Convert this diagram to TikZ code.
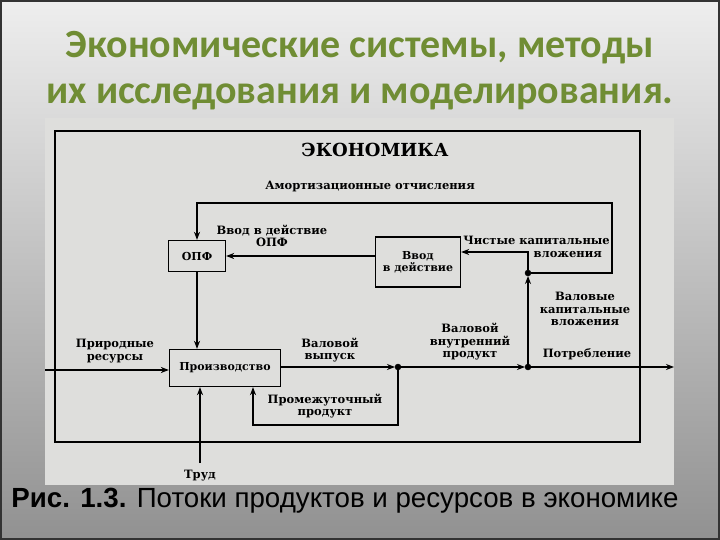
\documentclass[tikz,border=0pt]{standalone}
\usepackage{fontspec}
\setmainfont{DejaVu Serif}
\newfontfamily\titlefont{Carlito}
\newfontfamily\capfont{Liberation Sans}
\usetikzlibrary{arrows.meta}
\definecolor{titlegreen}{RGB}{112,141,52}
\definecolor{scanbg}{RGB}{222,222,220}
\definecolor{bgtop}{RGB}{238,238,238}
\definecolor{bgbot}{RGB}{145,145,145}
\tikzset{
  box/.style={draw, line width=1.3pt, fill=scanbg, inner sep=0pt, font=\bfseries\fontsize{11}{12}\selectfont},
  lbl/.style={font=\bfseries\fontsize{11.5}{12.5}\selectfont, align=center, inner sep=0pt},
  ln/.style={line width=1.3pt},
  arr/.style={line width=1.3pt, -{Stealth[length=8pt,width=6pt]}},
  dot/.style={circle, fill=black, draw=black, inner sep=0pt, minimum size=6pt}
}
\begin{document}
\begin{tikzpicture}[x=1pt,y=-1pt]
\useasboundingbox (0,0) rectangle (720,540);
\shade[top color=bgtop, bottom color=bgbot] (0,0) rectangle (720,540);
\draw[line width=2pt, black!80] (1,1) rectangle (719,539);
% title
\node[font=\titlefont\bfseries\fontsize{40}{46}\selectfont, text=titlegreen, align=center] (title) at (360,71)
  {Экономические системы, методы\\их исследования и моделирования.};
% scan
\fill[scanbg] (45,118) rectangle (674,485);
% frame
\draw[ln] (55,131) rectangle (640,442);
\node[font=\bfseries\fontsize{18}{20}\selectfont] (ekon) at (375,150) {ЭКОНОМИКА};
\node[lbl] (amort) at (370,187) {Амортизационные отчисления};
% boxes
\node[box, minimum width=57pt, minimum height=31pt] (opf) at (197,256) {ОПФ};
\node[box, minimum width=85pt, minimum height=50pt, align=center] (vvod) at (418,262) {Ввод\\в действие};
\node[box, minimum width=111pt, minimum height=37pt] (proizv) at (225,368) {Производство};
% coordinates / dots
\node[dot] (d1) at (398,367) {};
\node[dot] (d2) at (528,367) {};
\node[dot] (j1) at (528,273) {};
\coordinate (nat) at (45,370);
\coordinate (out) at (674,367);
\coordinate (trud) at (200,463);
% labels
\node[lbl, align=right, anchor=east] (lchist) at (610,247) {Чистые капитальные\\вложения\hspace*{8pt}};
\node[lbl] (lvvod) at (272,236) {Ввод в действие\\ОПФ};
\node[lbl] (lval) at (585,309) {Валовые\\капитальные\\вложения};
\node[lbl] (lnat) at (115,351) {Природные\\ресурсы};
\node[lbl] (lvyp) at (330,350) {Валовой\\выпуск};
\node[lbl] (lvvp) at (470,342) {Валовой\\внутренний\\продукт};
\node[lbl] (lpotr) at (587,354) {Потребление};
\node[lbl] (lprom) at (325,406) {Промежуточный\\продукт};
\node[lbl] (ltrud) at (200,476) {Труд};
% connectors
\draw[arr] (j1) -- (612,273) -- (612,203) -| (opf.north);
\draw[arr] (j1) |- ([yshift=10pt]vvod.east);
\draw[arr] (vvod.west |- opf.east) -- (opf.east);
\draw[arr] (opf.south) -- (opf.south |- proizv.north);
\draw[arr] (nat) -- (nat -| proizv.west);
\draw[arr, shorten >=3pt] (proizv.east |- d1) -- (d1.center);
\draw[arr, shorten >=3pt] (d1.center) -- (d2.center);
\draw[arr] (d2.center) -- (out);
\draw[arr, shorten >=3pt] (d2.center) -- (j1.center);
\draw[arr] (d1.center) -- (398,425) -| ([xshift=28pt]proizv.south);
\draw[arr] (trud) -- (trud |- proizv.south);
% caption
\node[font=\capfont\fontsize{27.7}{30}\selectfont, inner sep=0pt] (cap) at (345,501) {\textbf{Рис. 1.3.} Потоки продуктов и ресурсов в экономике};
\end{tikzpicture}
\end{document}
